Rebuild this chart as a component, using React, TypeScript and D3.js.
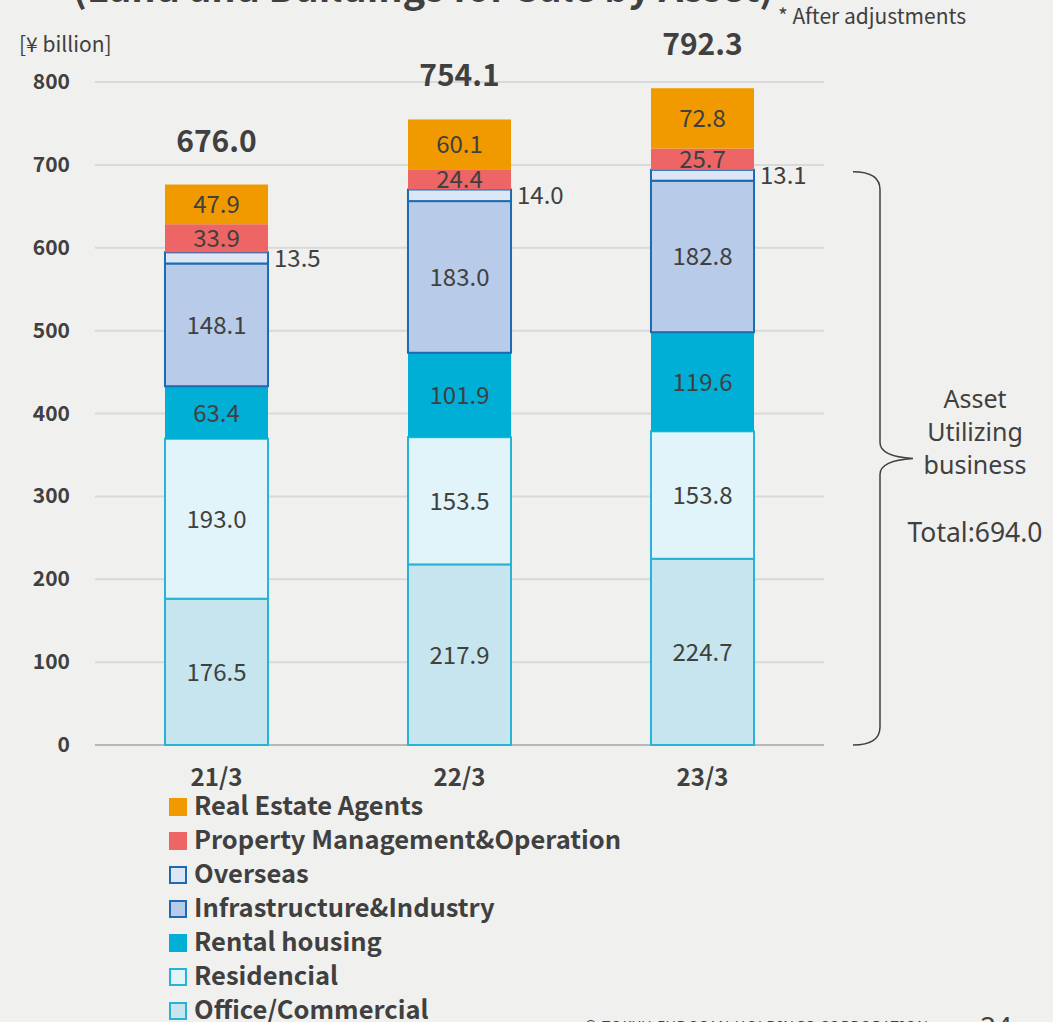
import React, { useRef, useEffect } from 'react';
import * as d3 from 'd3';

const years = ['21/3', '22/3', '23/3'];
const totals = ['676.0', '754.1', '792.3'];

// bottom to top
const segments = ['Office/Commercial', 'Residencial', 'Rental housing', 'Infrastructure&Industry', 'Overseas', 'Property Management&Operation', 'Real Estate Agents'];
const officeCommercial = [176.5, 217.9, 224.7];
const residencial = [193.0, 153.5, 153.8];
const rentalHousing = [63.4, 101.9, 119.6];
const infrastructure = [148.1, 183.0, 182.8];
const overseas = [13.5, 14.0, 13.1];
const propertyMgmt = [33.9, 24.4, 25.7];
const realEstateAgents = [47.9, 60.1, 72.8];

const yTicks = [0, 100, 200, 300, 400, 500, 600, 700, 800];
const assetTotal = 694.0;

const fills = ['#c6e5ee', '#e1f4f9', '#00afd5', '#b8cbe9', '#dce6f5', '#ee6565', '#f19a00'];
const strokes = ['#27b3d6', '#27b3d6', 'none', '#1d6ab4', '#1d6ab4', 'none', 'none'];

const textColor = '#404040';
const font = '"Noto Sans CJK JP", "Noto Sans", sans-serif';

const App = () => {
  const ref = useRef(null);

  useEffect(() => {
    const svg = d3.select(ref.current);
    svg.selectAll('*').remove();

    const seriesValues = [officeCommercial, residencial, rentalHousing, infrastructure, overseas, propertyMgmt, realEstateAgents];
    const rows = years.map((y, i) => {
      const row = { year: y };
      segments.forEach((s, k) => { row[s] = seriesValues[k][i]; });
      return row;
    });
    const stacked = d3.stack().keys(segments)(rows);

    const x = d3.scaleBand().domain(years).range([95, 824]).paddingInner(0.576).paddingOuter(0.288);
    const y = d3.scaleLinear().domain([0, 800]).range([745, 82]);

    svg.append('rect').attr('width', 1053).attr('height', 1022).attr('fill', '#f0f0ee');

    // title (cropped at top)
    svg.append('text')
      .attr('x', 423).attr('y', 2)
      .attr('text-anchor', 'middle')
      .attr('font-family', font).attr('font-weight', 700).attr('font-size', 38)
      .attr('fill', textColor)
      .text('(Land and Buildings for Sale by Asset)');

    svg.append('text')
      .attr('x', 778).attr('y', 24)
      .attr('font-family', font).attr('font-size', 21).attr('fill', textColor)
      .text('* After adjustments');

    svg.append('text')
      .attr('x', 19).attr('y', 52)
      .attr('font-family', font).attr('font-size', 21).attr('fill', textColor)
      .text('[¥ billion]');

    // grid
    svg.append('g').selectAll('line')
      .data(yTicks.filter(t => t > 0))
      .join('line')
      .attr('x1', 95).attr('x2', 824)
      .attr('y1', d => y(d)).attr('y2', d => y(d))
      .attr('stroke', '#d9d9d9').attr('stroke-width', 2);

    svg.append('line')
      .attr('x1', 95).attr('x2', 824)
      .attr('y1', y(0)).attr('y2', y(0))
      .attr('stroke', '#a6a6a6').attr('stroke-width', 1.5);

    svg.append('g').selectAll('text')
      .data(yTicks)
      .join('text')
      .attr('x', 70).attr('y', d => y(d) + 7)
      .attr('text-anchor', 'end')
      .attr('font-family', font).attr('font-weight', 700).attr('font-size', 21)
      .attr('fill', textColor)
      .text(d => d);

    // bars
    stacked.forEach((layer, k) => {
      const g = svg.append('g');
      g.selectAll('rect')
        .data(layer)
        .join('rect')
        .attr('x', d => x(d.data.year))
        .attr('width', x.bandwidth())
        .attr('y', d => y(d[1]))
        .attr('height', d => y(d[0]) - y(d[1]))
        .attr('fill', fills[k])
        .attr('stroke', strokes[k])
        .attr('stroke-width', 2);
    });

    // segment labels
    stacked.forEach((layer, k) => {
      const outside = segments[k] === 'Overseas';
      svg.append('g').selectAll('text')
        .data(layer)
        .join('text')
        .attr('x', d => outside ? x(d.data.year) + x.bandwidth() + 6 : x(d.data.year) + x.bandwidth() / 2)
        .attr('y', d => y((d[0] + d[1]) / 2) + 9)
        .attr('text-anchor', outside ? 'start' : 'middle')
        .attr('font-family', font).attr('font-size', 24)
        .attr('fill', textColor)
        .text(d => (d[1] - d[0]).toFixed(1));
    });

    // totals
    const top = stacked[stacked.length - 1];
    svg.append('g').selectAll('text')
      .data(top)
      .join('text')
      .attr('x', d => x(d.data.year) + x.bandwidth() / 2)
      .attr('y', d => y(d[1]) - 33)
      .attr('text-anchor', 'middle')
      .attr('font-family', font).attr('font-weight', 700).attr('font-size', 30)
      .attr('fill', textColor)
      .text((d, i) => totals[i]);

    // categories
    svg.append('g').selectAll('text')
      .data(years)
      .join('text')
      .attr('x', d => x(d) + x.bandwidth() / 2)
      .attr('y', 786)
      .attr('text-anchor', 'middle')
      .attr('font-family', font).attr('font-weight', 700).attr('font-size', 24)
      .attr('fill', textColor)
      .text(d => d);

    // brace
    const bTop = y(assetTotal) + 2, bBot = y(0), bMid = (bTop + bBot) / 2;
    const bx0 = 853, bx1 = 880, tip = 913;
    const brace = d3.path();
    brace.moveTo(bx0, bTop);
    brace.quadraticCurveTo(bx1, bTop, bx1, bTop + 18);
    brace.lineTo(bx1, bMid - 16);
    brace.quadraticCurveTo(bx1, bMid - 2, tip, bMid);
    brace.quadraticCurveTo(bx1, bMid + 2, bx1, bMid + 16);
    brace.lineTo(bx1, bBot - 18);
    brace.quadraticCurveTo(bx1, bBot, bx0, bBot);
    svg.append('path').attr('d', brace.toString())
      .attr('fill', 'none').attr('stroke', '#404040').attr('stroke-width', 1.5);

    const note = ['Asset', 'Utilizing', 'business'];
    svg.append('g').selectAll('text')
      .data(note)
      .join('text')
      .attr('x', 975).attr('y', (d, i) => 408 + i * 33)
      .attr('text-anchor', 'middle')
      .attr('font-family', '"Noto Sans", sans-serif').attr('font-size', 25)
      .attr('fill', textColor)
      .text(d => d);
    svg.append('text')
      .attr('x', 975).attr('y', 542)
      .attr('text-anchor', 'middle')
      .attr('font-family', '"Noto Sans", sans-serif').attr('font-size', 26.5)
      .attr('fill', textColor)
      .text('Total:' + assetTotal.toFixed(1));

    // legend (top to bottom)
    const legendOrder = segments.map((s, k) => k).reverse();
    const lg = svg.append('g').selectAll('g')
      .data(legendOrder)
      .join('g')
      .attr('transform', (d, i) => `translate(169, ${798 + i * 34})`);
    lg.append('rect')
      .attr('x', d => strokes[d] === 'none' ? 0 : 1)
      .attr('y', d => strokes[d] === 'none' ? 0 : 1)
      .attr('width', d => strokes[d] === 'none' ? 18 : 16)
      .attr('height', d => strokes[d] === 'none' ? 18 : 16)
      .attr('fill', d => fills[d])
      .attr('stroke', d => strokes[d])
      .attr('stroke-width', 2);
    lg.append('text')
      .attr('x', 25).attr('y', 17)
      .attr('font-family', font).attr('font-weight', 700).attr('font-size', 25.5)
      .attr('fill', textColor)
      .text(d => segments[d]);

    // footer (cropped at bottom)
    svg.append('text')
      .attr('x', 585).attr('y', 1031)
      .attr('font-family', '"Noto Sans", sans-serif').attr('font-size', 14)
      .attr('letter-spacing', 1)
      .attr('fill', textColor)
      .text('© TOKYU FUDOSAN HOLDINGS CORPORATION');
    svg.append('text')
      .attr('x', 980).attr('y', 1037)
      .attr('font-family', '"Noto Sans", sans-serif').attr('font-size', 28)
      .attr('fill', textColor)
      .text('24');
  }, []);

  return (
    <svg ref={ref} width={1053} height={1022}
      style={{ position: 'absolute', left: 0, top: 0, display: 'block' }} />
  );
};

export default App;
